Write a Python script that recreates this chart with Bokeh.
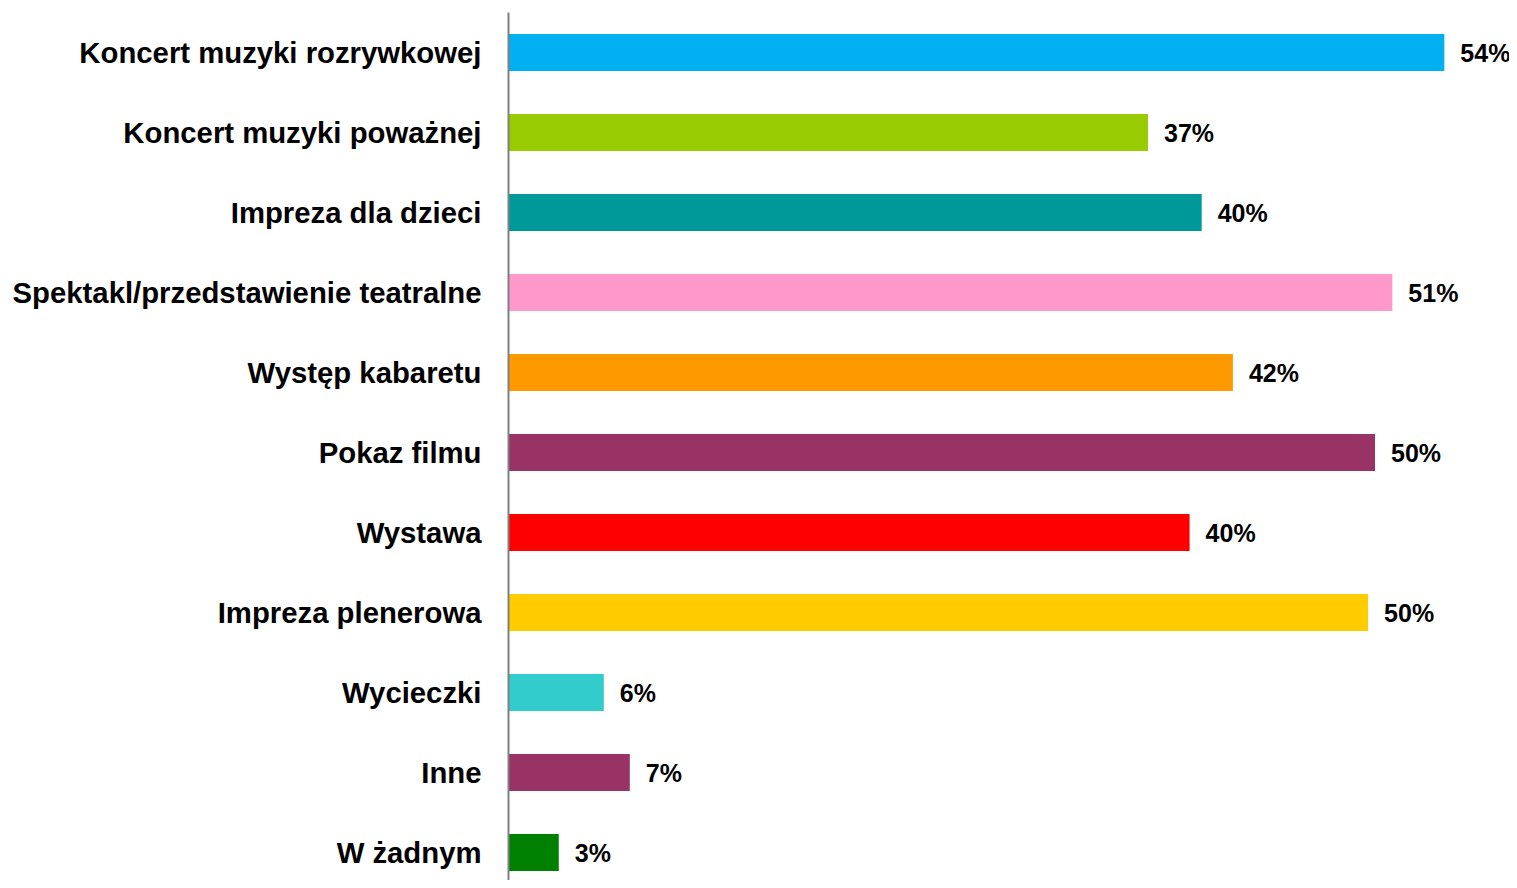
from bokeh.plotting import figure
from bokeh.models import Range1d, FixedTicker, ColumnDataSource
from bokeh.core.properties import value
from bokeh.embed import file_html
from bokeh.resources import INLINE

categories = ["Koncert muzyki rozrywkowej", "Koncert muzyki poważnej", "Impreza dla dzieci",
              "Spektakl/przedstawienie teatralne", "Występ kabaretu", "Pokaz filmu", "Wystawa",
              "Impreza plenerowa", "Wycieczki", "Inne", "W żadnym"]
values = [54.0, 36.9, 40.0, 51.0, 41.8, 50.0, 39.3, 49.6, 5.5, 7.0, 2.9]
labels = ["54%", "37%", "40%", "51%", "42%", "50%", "40%", "50%", "6%", "7%", "3%"]
colors = ["#00B0F0", "#99CC00", "#009999", "#FF99CC", "#FF9900", "#993366",
          "#FF0000", "#FFCC00", "#33CCCC", "#993366", "#008000"]

pos = list(range(len(categories)))
src = ColumnDataSource(dict(y=pos, v=values, c=colors, lab=labels))

p = figure(width=1509, height=880, output_backend="svg", toolbar_location=None,
           x_range=Range1d(0, 57.76), y_range=Range1d(10.35, -0.5),
           min_border_left=508, min_border_top=12, min_border_bottom=0, min_border_right=0)
p.outline_line_color = None
p.xgrid.visible = False
p.ygrid.visible = False
p.xaxis.visible = False

p.hbar(y="y", left=0, right="v", height=0.46, fill_color="c", line_color=None, source=src)
p.text(x="v", y="y", text="lab", x_offset=16, text_baseline="middle", text_align="left",
       text_font=value("Liberation Sans"), text_font_style="bold", text_font_size="25px",
       text_color="black", source=src)

ya = p.yaxis[0]
ya.ticker = FixedTicker(ticks=pos)
ya.major_label_overrides = {i: c for i, c in enumerate(categories)}
ya.major_tick_out = 0
ya.major_tick_in = 0
ya.minor_tick_out = 0
ya.minor_tick_in = 0
ya.major_label_standoff = 27
ya.major_label_text_font = "Liberation Sans"
ya.major_label_text_font_style = "bold"
ya.major_label_text_font_size = "29.3px"
ya.major_label_text_color = "black"
ya.axis_line_color = "#808080"
ya.axis_line_width = 2

open("out.html", "w").write(file_html(p, INLINE))
